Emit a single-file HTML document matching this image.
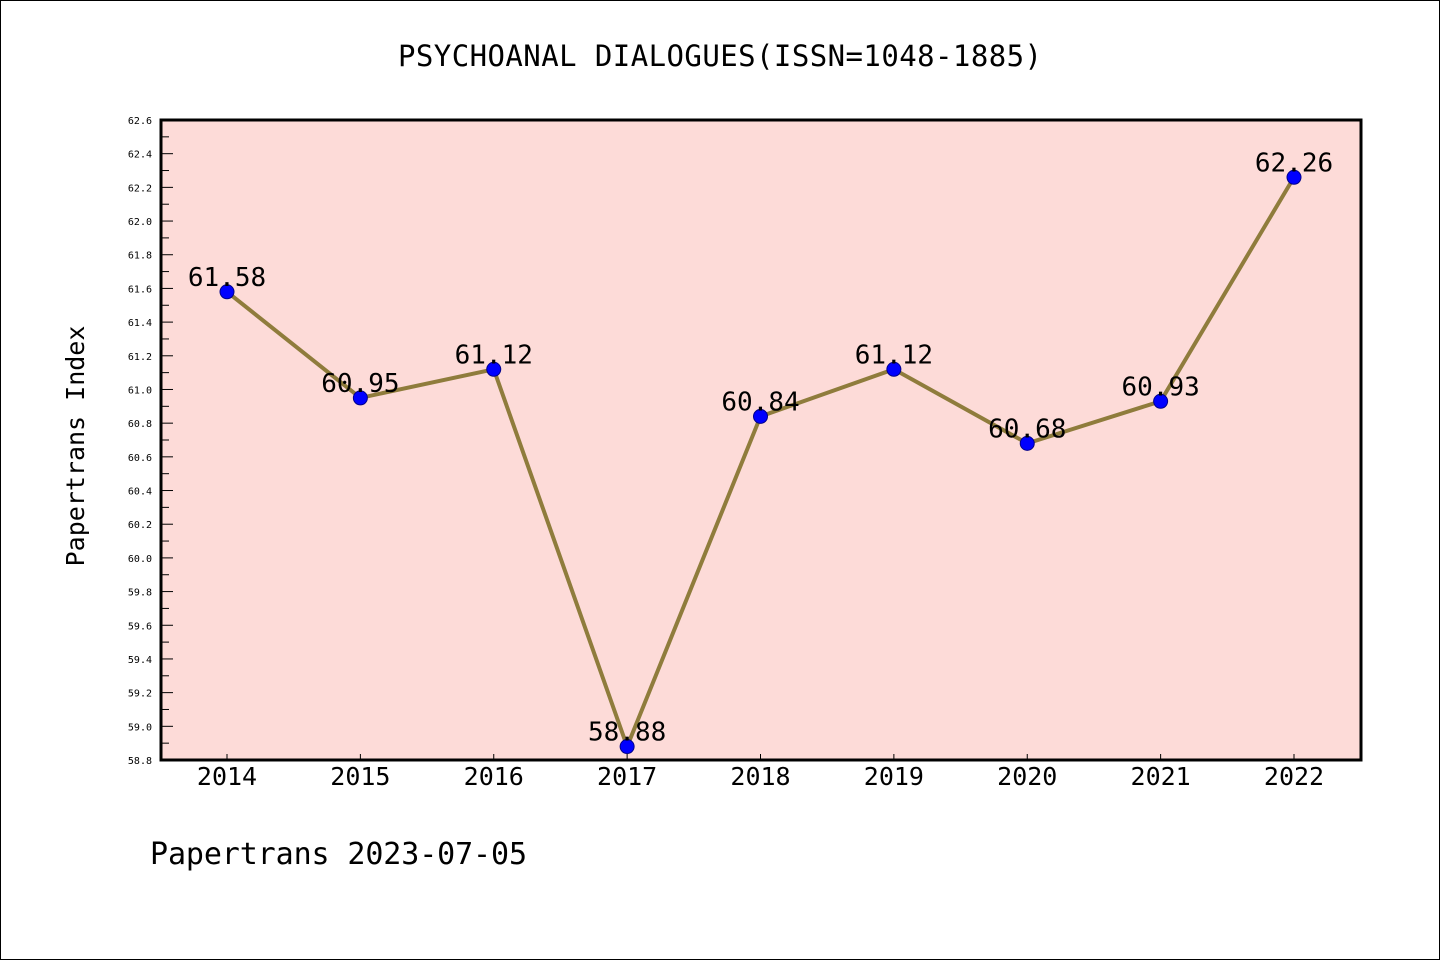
<!DOCTYPE html>
<html><head><meta charset="utf-8"><style>
body{margin:0;background:#fff;}
svg{display:block;}
svg text{font-family:"DejaVu Sans Mono","Liberation Mono",monospace;}
</style></head><body>
<svg id="c" width="1440" height="960" xmlns="http://www.w3.org/2000/svg">
<rect x="0.5" y="0.5" width="1439" height="959" fill="#fff" stroke="#000"/>
<text x="720" y="66" font-size="29" text-anchor="middle" textLength="644">PSYCHOANAL DIALOGUES(ISSN=1048-1885)</text>
<rect x="161" y="120" width="1200" height="640" fill="#fddbd8"/>
<g id="axes"></g>
<g id="marks"></g>
<rect x="161" y="120" width="1200" height="640" fill="none" stroke="#000" stroke-width="3"/>
<text transform="translate(84,446) rotate(-90)" font-size="25" text-anchor="middle">Papertrans Index</text>
<text x="150" y="864" font-size="30" textLength="377">Papertrans 2023-07-05</text>
</svg>
<script>
const years=['2014','2015','2016','2017','2018','2019','2020','2021','2022'];
const values=[61.58,60.95,61.12,58.88,60.84,61.12,60.68,60.93,62.26];
const yTicks=[58.8,59.0,59.2,59.4,59.6,59.8,60.0,60.2,60.4,60.6,60.8,61.0,61.2,61.4,61.6,61.8,62.0,62.2,62.4,62.6];
const NS='http://www.w3.org/2000/svg';
const yMin=58.8,yMax=62.6,pTop=120,pBot=760,pLeft=161;
const y=v=>pBot-(v-yMin)/(yMax-yMin)*(pBot-pTop);
const x=i=>227+i*133.375;
function mk(t,a,p){const e=document.createElementNS(NS,t);for(const k in a)e.setAttribute(k,a[k]);p.appendChild(e);return e;}
const ax=document.getElementById('axes'),mg=document.getElementById('marks');
yTicks.forEach((v,i)=>{
  const l=mk('line',{x1:pLeft,x2:pLeft+12,y1:y(v),y2:y(v),stroke:'#000','stroke-width':1},ax);
  
  
  const t=mk('text',{x:152,y:y(v)+4,'font-size':10,'text-anchor':'end'},ax);
  t.textContent=v.toFixed(1);
  
  
  if(i<yTicks.length-1){const m=mk('line',{x1:pLeft,x2:pLeft+8,y1:y(v+0.1),y2:y(v+0.1),stroke:'#000','stroke-width':1},ax);
  
  }
});
years.forEach((yr,i)=>{
  const l=mk('line',{x1:x(i),x2:x(i),y1:pBot,y2:pBot-6,stroke:'#000','stroke-width':1},ax);
  
  
  const t=mk('text',{x:x(i),y:785,'font-size':25,'text-anchor':'middle'},ax);
  t.textContent=yr;
  
  
});
const pl=mk('polyline',{points:values.map((v,i)=>x(i)+','+y(v)).join(' '),fill:'none',stroke:'#8f7c3c','stroke-width':4},mg);


values.forEach((v,i)=>{
  const c=mk('circle',{cx:x(i),cy:y(v),r:7,fill:'#0000ff',stroke:'#00008b','stroke-width':1},mg);
  
  
  const t=mk('text',{x:x(i),y:y(v)-6,'font-size':26,'text-anchor':'middle'},mg);
  t.textContent=v.toFixed(2);
  
  
});
</script>
</body></html>
